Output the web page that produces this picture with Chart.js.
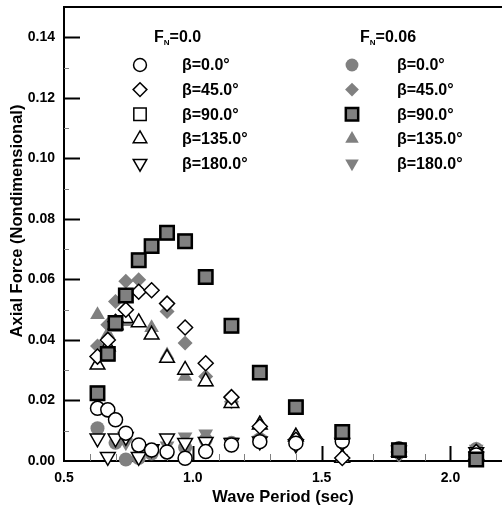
<!DOCTYPE html>
<html>
<head>
<meta charset="utf-8">
<script src="https://cdn.jsdelivr.net/npm/chart.js@4.4.0/dist/chart.umd.min.js"></script>
<style>
  html, body { margin: 0; padding: 0; background: #fff; }
</style>
</head>
<body>
<canvas id="chart" width="502" height="508"></canvas>
<script>
// wave periods (sec) of the test runs
const periods = [0.63, 0.67, 0.70, 0.74, 0.79, 0.84, 0.90, 0.97, 1.05, 1.15, 1.26, 1.40, 1.58, 1.80, 2.10];

// F_N = 0.0
const fn0Beta0   = [0.0174, 0.0169, 0.0136, 0.0092, 0.0053, 0.0036, 0.0030, 0.0009, 0.0031, 0.0053, 0.0064, 0.0059, 0.0065, 0.0040, 0.0020];
const fn0Beta45  = [0.0345, 0.0400, 0.0460, 0.0500, 0.0559, 0.0564, 0.0520, 0.0441, 0.0323, 0.0211, 0.0114, 0.0070, 0.0010, 0.0030, 0.0030];
const fn0Beta90  = [0.0224, 0.0354, 0.0456, 0.0547, 0.0663, 0.0710, 0.0754, 0.0726, 0.0608, 0.0447, 0.0292, 0.0178, 0.0096, 0.0036, 0.0005];
const fn0Beta135 = [0.0318, 0.0378, 0.0450, 0.0472, 0.0458, 0.0417, 0.0340, 0.0301, 0.0263, 0.0191, 0.0120, 0.0080, 0.0010, 0.0030, 0.0020];
const fn0Beta180 = [0.0075, 0.0014, 0.0075, 0.0080, 0.0014, 0.0040, 0.0075, 0.0060, 0.0064, 0.0060, 0.0065, 0.0055, 0.0060, 0.0035, 0.0030];

// F_N = 0.06
const fn6Beta0   = [0.0108, 0.0165, 0.0060, 0.0005, 0.0010, 0.0025, 0.0030, 0.0045, 0.0070, 0.0060, 0.0072, 0.0062, 0.0062, 0.0040, 0.0040];
const fn6Beta45  = [0.0380, 0.0450, 0.0527, 0.0594, 0.0599, 0.0566, 0.0494, 0.0390, 0.0279, 0.0196, 0.0115, 0.0068, 0.0010, 0.0020, 0.0040];
const fn6Beta90  = [0.0224, 0.0354, 0.0456, 0.0547, 0.0663, 0.0710, 0.0754, 0.0726, 0.0608, 0.0447, 0.0292, 0.0178, 0.0096, 0.0036, 0.0005];
const fn6Beta135 = [0.0483, 0.0420, 0.0440, 0.0460, 0.0458, 0.0440, 0.0350, 0.0279, 0.0260, 0.0200, 0.0125, 0.0085, 0.0015, 0.0025, 0.0030];
const fn6Beta180 = [0.0220, 0.0360, 0.0070, 0.0060, 0.0030, 0.0036, 0.0050, 0.0080, 0.0090, 0.0064, 0.0070, 0.0060, 0.0060, 0.0040, 0.0040];

const headings = ['F|N|=0.0', 'F|N|=0.06'];
const betaLabels = ['β=0.0°', 'β=45.0°', 'β=90.0°', 'β=135.0°', 'β=180.0°'];
const xTicks = [0.5, 1.0, 1.5, 2.0];
const yTicks = [0, 0.02, 0.04, 0.06, 0.08, 0.10, 0.12, 0.14];

const FONT = '"Liberation Sans", Arial, sans-serif';
const GRAY = '#808080';

const toPoints = vals => periods.map((t, i) => ({ x: t, y: vals[i] }));

const shapes = [
  { pointStyle: 'circle', pointRadius: 7, rotation: 0 },
  { pointStyle: 'rectRot', pointRadius: 7.5, rotation: 0 },
  { pointStyle: 'rect', pointRadius: 9.5, rotation: 0 },
  { pointStyle: 'triangle', pointRadius: 8.5, rotation: 0 },
  { pointStyle: 'triangle', pointRadius: 8.5, rotation: 180 },
];

const makeSet = (vals, k, filled, col, order) => ({
  label: betaLabels[k],
  data: toPoints(vals),
  pointStyle: shapes[k].pointStyle,
  pointRadius: shapes[k].pointRadius,
  rotation: shapes[k].rotation,
  backgroundColor: filled ? GRAY : '#fff',
  borderColor: filled ? (k === 2 ? '#000' : GRAY) : '#000',
  borderWidth: filled ? (k === 2 ? 2.5 : 0) : 1.5,
  clip: false,
  order: order,
  legendCol: col,
  legendRow: k,
});

const datasets = [
  makeSet(fn6Beta90, 2, true, 1, 0),
  makeSet(fn0Beta90, 2, false, 0, 1),
  makeSet(fn0Beta0, 0, false, 0, 2),
  makeSet(fn0Beta45, 1, false, 0, 3),
  makeSet(fn0Beta135, 3, false, 0, 4),
  makeSet(fn0Beta180, 4, false, 0, 5),
  makeSet(fn6Beta180, 4, true, 1, 6),
  makeSet(fn6Beta135, 3, true, 1, 7),
  makeSet(fn6Beta45, 1, true, 1, 8),
  makeSet(fn6Beta0, 0, true, 1, 9),
];

// no extra room for the end tick labels
const noPadding = s => {
  s.paddingLeft = 0;
  s.paddingRight = 0;
  s.paddingTop = 0;
  s.paddingBottom = 0;
};

// inward ticks, top frame line and axis titles
const framePlugin = {
  id: 'frame',
  beforeDatasetsDraw(chart) {
    const { ctx, chartArea: a, scales: { x, y } } = chart;
    ctx.save();
    ctx.lineCap = 'butt';
    for (let i = 1; i < 15; i++) {
      const v = i / 100;
      const py = Math.round(y.getPixelForValue(v)) + 0.5;
      const major = i % 2 === 0;
      ctx.strokeStyle = major ? '#000' : GRAY;
      ctx.lineWidth = major ? 2 : 1;
      ctx.beginPath();
      ctx.moveTo(a.left, py);
      ctx.lineTo(a.left + (major ? 16 : 5), py);
      ctx.stroke();
    }
    for (let i = 6; i <= 21; i++) {
      const v = i / 10;
      const px = Math.round(x.getPixelForValue(v)) + 0.5;
      const major = i % 5 === 0;
      ctx.strokeStyle = major ? '#000' : GRAY;
      ctx.lineWidth = major ? 2 : 1;
      ctx.beginPath();
      ctx.moveTo(px, a.bottom);
      ctx.lineTo(px, a.bottom - (major ? 15 : 7));
      ctx.stroke();
    }
    ctx.strokeStyle = '#000';
    ctx.lineWidth = 2;
    ctx.beginPath();
    ctx.moveTo(a.left - 1, a.top);
    ctx.lineTo(a.right, a.top);
    ctx.stroke();

    ctx.fillStyle = '#000';
    ctx.font = 'bold 16.5px ' + FONT;
    ctx.textAlign = 'center';
    ctx.textBaseline = 'middle';
    ctx.fillText('Wave Period (sec)', (a.left + a.right) / 2, 497);
    ctx.translate(17, 221);
    ctx.rotate(-Math.PI / 2);
    ctx.fillText('Axial Force (Nondimensional)', 0, 0);
    ctx.restore();
  },
  afterDraw(chart) {
    const ctx = chart.ctx;
    const colMarker = [140, 352];
    const colText = [182, 397];
    ctx.save();
    ctx.fillStyle = '#000';
    ctx.textBaseline = 'middle';
    ctx.textAlign = 'left';
    // headings with subscript N
    headings.forEach((h, c) => {
      const [a, sub, b] = h.split('|');
      let px = c === 0 ? 154 : 360;
      ctx.font = 'bold 16px ' + FONT;
      ctx.fillText(a, px, 38);
      px += ctx.measureText(a).width;
      ctx.font = 'bold 8px ' + FONT;
      ctx.fillText(sub, px, 43);
      px += ctx.measureText(sub).width;
      ctx.font = 'bold 16px ' + FONT;
      ctx.fillText(b, px, 38);
    });
    chart.data.datasets.forEach(ds => {
      const py = 65 + ds.legendRow * 24.6;
      ctx.fillStyle = ds.backgroundColor;
      ctx.strokeStyle = ds.borderColor;
      ctx.lineWidth = ds.borderWidth;
      Chart.helpers.drawPoint(ctx, {
        pointStyle: ds.pointStyle,
        rotation: ds.rotation,
        radius: ds.pointRadius * 0.92,
        borderWidth: ds.borderWidth,
      }, colMarker[ds.legendCol], py);
      ctx.fillStyle = '#000';
      ctx.font = 'bold 16px ' + FONT;
      ctx.fillText(ds.label, colText[ds.legendCol], py + 1);
    });
    ctx.restore();
  },
};

new Chart(document.getElementById('chart'), {
  type: 'scatter',
  data: { datasets },
  options: {
    responsive: false,
    animation: false,
    devicePixelRatio: 1,
    layout: { autoPadding: false, padding: { top: 7, right: 0, left: 0, bottom: 0 } },
    plugins: {
      legend: { display: false },
      tooltip: { enabled: false },
    },
    scales: {
      x: {
        type: 'linear',
        min: 0.5,
        max: 2.2,
        afterFit: s => { s.height = 47; noPadding(s); },
        afterBuildTicks: s => { s.ticks = xTicks.map(v => ({ value: v })); },
        grid: { drawOnChartArea: false, drawTicks: false },
        border: { display: true, color: '#000', width: 2 },
        ticks: {
          padding: 9,
          color: '#000',
          maxRotation: 0,
          font: { family: FONT, size: 14, weight: 'bold' },
          callback: v => v.toFixed(1),
        },
      },
      y: {
        min: 0,
        max: 0.15,
        afterFit: s => { s.width = 64; noPadding(s); },
        afterBuildTicks: s => { s.ticks = yTicks.map(v => ({ value: v })); },
        grid: { drawOnChartArea: false, drawTicks: false },
        border: { display: true, color: '#000', width: 2 },
        ticks: {
          padding: 9,
          color: '#000',
          font: { family: FONT, size: 14, weight: 'bold' },
          callback: v => v.toFixed(2),
        },
      },
    },
  },
  plugins: [framePlugin],
});
</script>
</body>
</html>
